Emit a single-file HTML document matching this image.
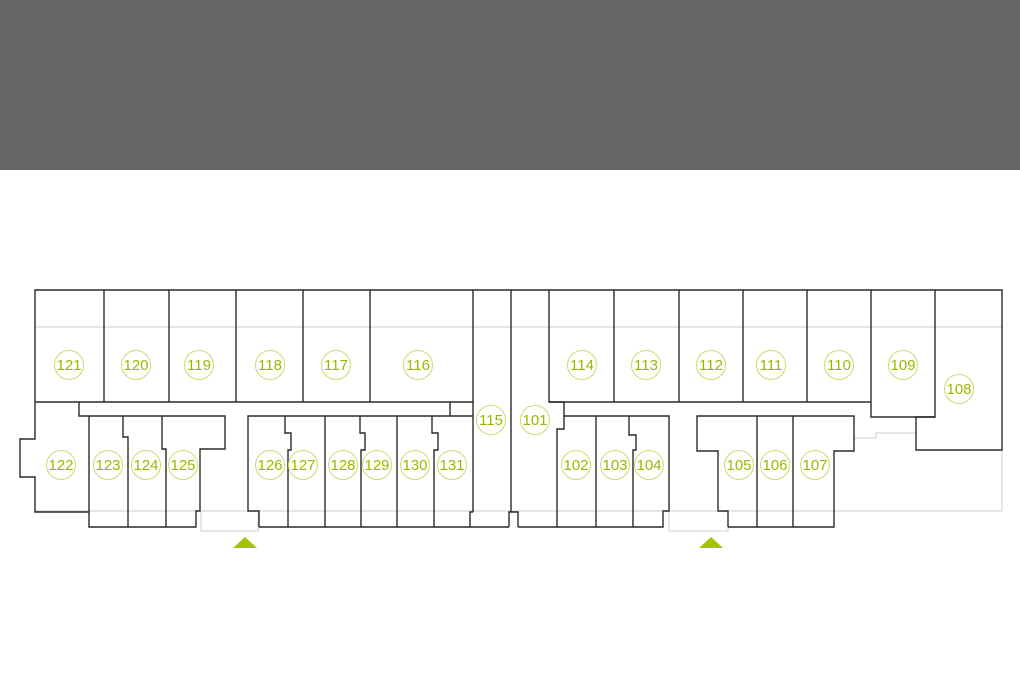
<!DOCTYPE html>
<html><head><meta charset="utf-8"><style>
html,body{margin:0;padding:0;background:#fff;}
svg{display:block}
</style></head><body>
<svg width="1020" height="680" viewBox="0 0 1020 680" xmlns="http://www.w3.org/2000/svg">
<rect x="0" y="0" width="1020" height="170" fill="#666"/>
<g fill="none" stroke="#ccc" stroke-width="1">
<line x1="35" y1="327" x2="1002" y2="327"/>
<line x1="35" y1="511" x2="1002" y2="511"/>
<line x1="1002" y1="450" x2="1002" y2="511"/>
<rect x="201" y="511" width="57" height="20"/>
<rect x="669" y="511" width="59" height="20"/>
<polyline points="854,438 876,438 876,433 916,433"/>
</g>
<g fill="none" stroke="#2a2a2a" stroke-width="1.4">
<polyline points="35,402 35,290 1002,290 1002,450 916,450 916,417 935,417 935,290"/>
<line x1="35" y1="402" x2="473" y2="402"/>
<line x1="104" y1="290" x2="104" y2="402"/>
<line x1="169" y1="290" x2="169" y2="402"/>
<line x1="236" y1="290" x2="236" y2="402"/>
<line x1="303" y1="290" x2="303" y2="402"/>
<line x1="370" y1="290" x2="370" y2="402"/>
<line x1="473" y1="290" x2="473" y2="512"/>
<polyline points="473,512 470,512 470,527"/>
<line x1="511" y1="290" x2="511" y2="512"/>
<polyline points="509,527 509,512 518,512 518,527"/>
<line x1="450" y1="402" x2="450" y2="416"/>
<polyline points="549,290 549,402 871,402"/>
<line x1="614" y1="290" x2="614" y2="402"/>
<line x1="679" y1="290" x2="679" y2="402"/>
<line x1="743" y1="290" x2="743" y2="402"/>
<line x1="807" y1="290" x2="807" y2="402"/>
<polyline points="871,290 871,417 935,417"/>
<polyline points="35,402 35,439 20,439 20,477 35,477 35,512 89,512"/>
<polyline points="79,402 79,416 225,416 225,449 200,449 200,511 196,511 196,527 89,527 89,416"/>
<polyline points="123,416 123,437 128,437 128,527"/>
<polyline points="162,416 162,449 166,449 166,527"/>
<polyline points="259,527 259,511 248,511 248,416 473,416"/>
<line x1="259" y1="527" x2="509" y2="527"/>
<polyline points="285,416 285,433 291,433 291,450 288,450 288,527"/>
<line x1="325" y1="416" x2="325" y2="527"/>
<polyline points="360,416 360,433 365,433 365,450 361,450 361,527"/>
<line x1="397" y1="416" x2="397" y2="527"/>
<polyline points="432,416 432,433 438,433 438,450 434,450 434,527"/>
<polyline points="549,402 564,402 564,429 557,429 557,527"/>
<polyline points="564,416 669,416 669,511 663,511 663,527 518,527"/>
<line x1="596" y1="416" x2="596" y2="527"/>
<polyline points="629,416 629,435 636,435 636,450 633,450 633,527"/>
<polyline points="728,527 728,511 718,511 718,451 697,451 697,416 854,416 854,451 834,451 834,527 728,527"/>
<line x1="757" y1="416" x2="757" y2="527"/>
<line x1="793" y1="416" x2="793" y2="527"/>
</g>
<polygon points="233,548 245,537 257,548" fill="#a4c400"/>
<polygon points="699,548 711,537 723,548" fill="#a4c400"/>
<g fill="#fff" stroke="#c8dc6e" stroke-width="1">
<circle cx="69" cy="365" r="14.5"/><circle cx="136" cy="365" r="14.5"/><circle cx="199" cy="365" r="14.5"/>
<circle cx="270" cy="365" r="14.5"/><circle cx="336" cy="365" r="14.5"/><circle cx="418" cy="365" r="14.5"/>
<circle cx="582" cy="365" r="14.5"/><circle cx="646" cy="365" r="14.5"/><circle cx="711" cy="365" r="14.5"/>
<circle cx="771" cy="365" r="14.5"/><circle cx="839" cy="365" r="14.5"/><circle cx="903" cy="365" r="14.5"/>
<circle cx="959" cy="389" r="14.5"/>
<circle cx="491" cy="420" r="14.5"/><circle cx="535" cy="420" r="14.5"/>
<circle cx="61" cy="465" r="14.5"/><circle cx="108" cy="465" r="14.5"/><circle cx="146" cy="465" r="14.5"/><circle cx="183" cy="465" r="14.5"/>
<circle cx="270" cy="465" r="14.5"/><circle cx="303" cy="465" r="14.5"/><circle cx="343" cy="465" r="14.5"/><circle cx="377" cy="465" r="14.5"/><circle cx="415" cy="465" r="14.5"/><circle cx="452" cy="465" r="14.5"/>
<circle cx="576" cy="465" r="14.5"/><circle cx="615" cy="465" r="14.5"/><circle cx="649" cy="465" r="14.5"/>
<circle cx="739" cy="465" r="14.5"/><circle cx="775" cy="465" r="14.5"/><circle cx="815" cy="465" r="14.5"/>
</g>
<g fill="#9ab800" font-family="Liberation Sans, sans-serif" font-size="15" text-anchor="middle">
<text x="69" y="370">121</text><text x="136" y="370">120</text><text x="199" y="370">119</text>
<text x="270" y="370">118</text><text x="336" y="370">117</text><text x="418" y="370">116</text>
<text x="582" y="370">114</text><text x="646" y="370">113</text><text x="711" y="370">112</text>
<text x="771" y="370">111</text><text x="839" y="370">110</text><text x="903" y="370">109</text>
<text x="959" y="394">108</text>
<text x="491" y="425">115</text><text x="535" y="425">101</text>
<text x="61" y="470">122</text><text x="108" y="470">123</text><text x="146" y="470">124</text><text x="183" y="470">125</text>
<text x="270" y="470">126</text><text x="303" y="470">127</text><text x="343" y="470">128</text><text x="377" y="470">129</text><text x="415" y="470">130</text><text x="452" y="470">131</text>
<text x="576" y="470">102</text><text x="615" y="470">103</text><text x="649" y="470">104</text>
<text x="739" y="470">105</text><text x="775" y="470">106</text><text x="815" y="470">107</text>
</g>
</svg>
</body></html>
